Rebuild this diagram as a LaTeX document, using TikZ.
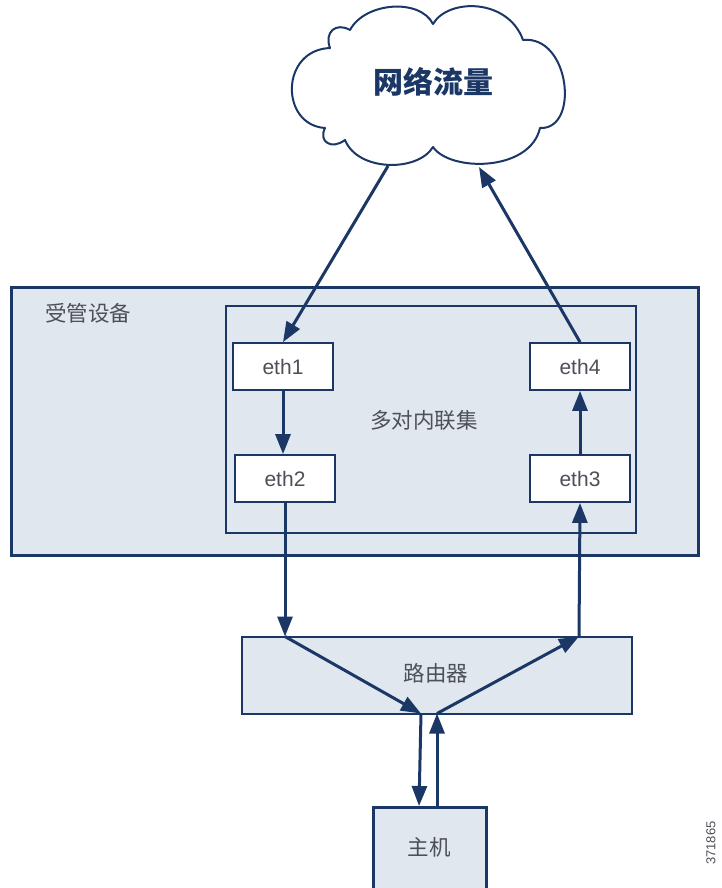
\documentclass[tikz,border=0pt]{standalone}
\usepackage{fontspec}
\setmainfont{Liberation Sans}
\newfontfamily\cjk{Noto Sans CJK SC}
\usetikzlibrary{arrows.meta}
\definecolor{navy}{HTML}{1B3766}
\definecolor{boxfill}{HTML}{E0E7EE}
\definecolor{txt}{HTML}{4E5058}
\tikzset{
  frame/.style={draw=navy, fill=boxfill, inner sep=0pt},
  ethbox/.style={draw=navy, fill=white, line width=1.8pt, minimum width=100pt, minimum height=47pt, inner sep=0pt, font=\fontsize{21}{24}\selectfont, text=txt},
  lbl/.style={font=\cjk\fontsize{21.5}{24}\selectfont, text=txt, inner sep=0pt},
  flow/.style={draw=navy, line width=3pt, -{Triangle[length=20pt,width=15pt]}},
  cloudline/.style={draw=navy, fill=white, line width=2pt, line join=round}
}
\begin{document}
\begin{tikzpicture}[x=1pt,y=-1pt]
\clip (0,0) rectangle (722,888);
\fill[white] (0,0) rectangle (722,888);
% cloud
\path[cloudline] (325,128)
  .. controls (280,125) and (280,50) .. (330,48)
  .. controls (324,32) and (336,22) .. (350,30)
  .. controls (365,2) and (420,-2) .. (433,24)
  .. controls (448,-2) and (508,-2) .. (523,40)
  .. controls (570,35) and (580,130) .. (540,128)
  .. controls (530,172) and (450,172) .. (433,147)
  .. controls (418,172) and (358,172) .. (345,140)
  .. controls (332,150) and (318,142) .. cycle;
\node[font=\cjk\bfseries\fontsize{30}{34}\selectfont, text=navy] (cloudtxt) at (433,82) {网络流量};
% managed device
\node[frame, line width=3pt, minimum width=687pt, minimum height=268pt] (dev) at (354.5,421) {};
\node[lbl, anchor=west] (devlbl) at (45,313) {受管设备};
\node[frame, line width=1.6pt, minimum width=410pt, minimum height=227pt] (set) at (431,419.5) {};
\node[lbl] (setlbl) at (424,420) {多对内联集};
\node[ethbox] (eth1) at (283,366.5) {eth1};
\node[ethbox] (eth2) at (285,478.5) {eth2};
\node[ethbox] (eth4) at (580,366.5) {eth4};
\node[ethbox] (eth3) at (580,478.5) {eth3};
% router and host
\node[frame, line width=2pt, minimum width=390pt, minimum height=77pt] (router) at (437,675) {};
\node[lbl] (routerlbl) at (436,673) {路由器};
\node[frame, line width=2.5pt, minimum width=113pt, minimum height=110pt, anchor=north] (host) at (430,806) {};
\node[lbl] (hostlbl) at (429,847) {主机};
\node[font=\fontsize{13}{15}\selectfont, text=txt, rotate=90, inner sep=0pt] (code) at (711,843) {371865};
% coordinates
\coordinate (c1) at (388,166);
\coordinate (c2) at (479,167);
\coordinate (rtl) at (285,636.5);
\coordinate (rbl) at (421,713.5);
\coordinate (rbr) at (437,713.5);
\coordinate (rtr) at (579,636.5);
\coordinate (hin) at (419,806);
\coordinate (hout) at (437,806);
% connectors
\draw[flow] (c1) -- (eth1.north);
\draw[flow] (eth4.north) -- (c2);
\draw[flow] (eth1.south) -- (eth2.north -| eth1.south);
\draw[flow] (eth3.north) -- (eth4.south);
\draw[flow] (eth2.south) -- (rtl);
\draw[flow] (rtl) -- (rbl);
\draw[flow] (rbl) -- (hin);
\draw[flow] (hout) -- (rbr);
\draw[flow] (rbr) -- (rtr);
\draw[flow] (rtr) -- (eth3.south);
\end{tikzpicture}
\end{document}
